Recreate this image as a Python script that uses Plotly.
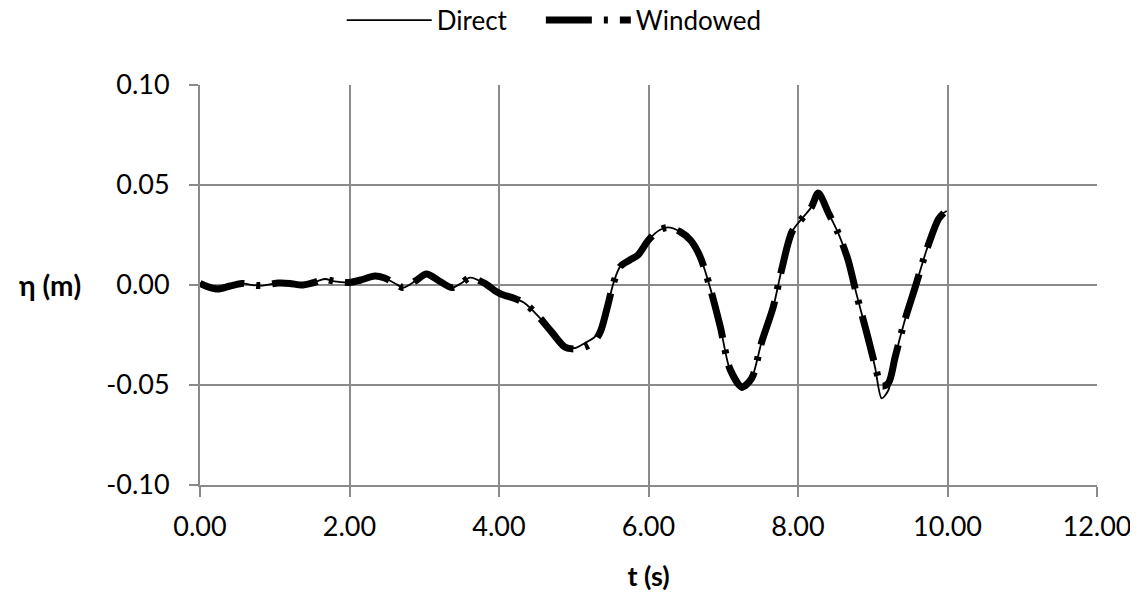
import plotly.graph_objects as go

# ---- data ----
t_direct = [0.00, 0.10, 0.24, 0.40, 0.56, 0.70, 0.82, 1.05, 1.20, 1.36, 1.50, 1.67, 1.80,
            2.00, 2.15, 2.34, 2.47, 2.60, 2.72, 2.88, 3.03, 3.20, 3.37, 3.50, 3.61, 3.81,
            3.95, 4.04, 4.21, 4.35, 4.53, 4.70, 4.88, 5.02, 5.15, 5.28, 5.36, 5.45, 5.53,
            5.62, 5.75, 5.86, 6.00, 6.15, 6.26, 6.42, 6.56, 6.69, 6.82, 6.96, 7.09, 7.25,
            7.38, 7.51, 7.67, 7.78, 7.92, 8.07, 8.18, 8.27, 8.41, 8.54, 8.67, 8.78, 8.92,
            9.03, 9.12, 9.21, 9.30, 9.43, 9.57, 9.72, 9.88, 9.99]
eta_direct = [0.0010, -0.0005, -0.0020, -0.0005, 0.0008, 0.0000, -0.0003, 0.0010, 0.0008,
              0.0000, 0.0010, 0.0030, 0.0018, 0.0013, 0.0025, 0.0045, 0.0035, 0.0010,
              -0.0013, 0.0020, 0.0055, 0.0020, -0.0013, 0.0010, 0.0037, 0.0008, -0.0030,
              -0.0047, -0.0067, -0.0092, -0.0158, -0.0233, -0.0305, -0.0315, -0.0290,
              -0.0260, -0.0220, -0.0110, 0.0008, 0.0092, 0.0125, 0.0150, 0.0225, 0.0275,
              0.0288, 0.0267, 0.0225, 0.0142, -0.0008, -0.0208, -0.0425, -0.0525, -0.0467,
              -0.0290, -0.0108, 0.0075, 0.0267, 0.0340, 0.0390, 0.0467, 0.0358, 0.0258,
              0.0125, -0.0042, -0.0240, -0.0410, -0.0567, -0.0525, -0.0360, -0.0175,
              -0.0008, 0.0175, 0.0340, 0.0370]

t_windowed = [0.00, 0.10, 0.24, 0.40, 0.56, 0.70, 0.82, 1.05, 1.20, 1.36, 1.50, 1.67, 1.80,
              2.00, 2.15, 2.34, 2.47, 2.60, 2.72, 2.88, 3.03, 3.20, 3.37, 3.50, 3.61, 3.81,
              3.95, 4.04, 4.21, 4.35, 4.53, 4.70, 4.88, 5.02, 5.15, 5.28, 5.36, 5.45, 5.53,
              5.62, 5.75, 5.86, 6.00, 6.15, 6.26, 6.42, 6.56, 6.69, 6.82, 6.96, 7.09, 7.25,
              7.38, 7.51, 7.67, 7.78, 7.92, 8.07, 8.18, 8.27, 8.41, 8.54, 8.67, 8.78, 8.92,
              9.03, 9.12, 9.21, 9.30, 9.43, 9.57, 9.72, 9.88, 9.95]
eta_windowed = [0.0008, -0.0008, -0.0020, -0.0005, 0.0008, 0.0000, -0.0003, 0.0010, 0.0008,
                0.0000, 0.0010, 0.0028, 0.0018, 0.0013, 0.0025, 0.0045, 0.0035, 0.0010,
                -0.0013, 0.0020, 0.0055, 0.0020, -0.0013, 0.0010, 0.0037, 0.0008, -0.0030,
                -0.0047, -0.0067, -0.0092, -0.0158, -0.0233, -0.0310, -0.0320, -0.0310,
                -0.0280, -0.0230, -0.0110, 0.0008, 0.0092, 0.0125, 0.0150, 0.0225, 0.0275,
                0.0288, 0.0267, 0.0225, 0.0142, -0.0008, -0.0208, -0.0420, -0.0510, -0.0467,
                -0.0290, -0.0108, 0.0075, 0.0267, 0.0340, 0.0390, 0.0460, 0.0358, 0.0258,
                0.0125, -0.0042, -0.0240, -0.0400, -0.0505, -0.0490, -0.0360, -0.0175,
                -0.0008, 0.0175, 0.0330, 0.0360]

x_ticks = [0, 2, 4, 6, 8, 10, 12]
x_ticktext = ["0.00", "2.00", "4.00", "6.00", "8.00", "10.00", "12.00"]
y_ticks = [-0.10, -0.05, 0.00, 0.05, 0.10]
y_ticktext = ["-0.10", "-0.05", "0.00", "0.05", "0.10"]

FONT = "Lato, 'Open Sans', sans-serif"
GRID = "#8a8a8a"
FS = 27

fig = go.Figure()
fig.add_trace(go.Scatter(
    x=t_windowed, y=eta_windowed, name="Windowed", mode="lines", legend="legend2",
    showlegend=True,
    line=dict(color="black", width=7, dash="46px,12px,4px,12px", shape="spline", smoothing=0.8),
))
fig.add_trace(go.Scatter(
    x=t_direct, y=eta_direct, name="Direct", mode="lines", legend="legend",
    showlegend=True,
    line=dict(color="black", width=1.8, shape="spline", smoothing=0.8),
))

leg_common = dict(orientation="h", xanchor="left", y=1.162, yanchor="middle",
                  font=dict(size=26), itemwidth=85, bgcolor="rgba(0,0,0,0)", visible=True)

# page body adds an 8px margin, so the figure is 8px smaller and shifted
fig.update_layout(
    width=1130, height=587,
    showlegend=True,
    margin=dict(l=192, r=41, t=77, b=110, autoexpand=False),
    paper_bgcolor="white", plot_bgcolor="white",
    font=dict(family=FONT, size=FS, color="black"),
    legend=dict(x=0.158, **leg_common),
    legend2=dict(x=0.38, **leg_common),
    xaxis=dict(range=[0, 12], tickvals=x_ticks, ticktext=x_ticktext,
               showgrid=True, gridcolor=GRID, gridwidth=2,
               showline=True, linecolor=GRID, linewidth=2,
               ticks="outside", ticklen=10, tickwidth=2, tickcolor=GRID,
               ticklabelstandoff=7, ticklabeloverflow="allow", zeroline=False,
               title=dict(text="<b>t (s)</b>", font=dict(size=FS), standoff=26)),
    yaxis=dict(range=[-0.10, 0.10], tickvals=y_ticks, ticktext=y_ticktext,
               showgrid=True, gridcolor=GRID, gridwidth=2,
               showline=True, linecolor=GRID, linewidth=2,
               ticks="outside", ticklen=9, tickwidth=2, tickcolor=GRID,
               ticklabelstandoff=14, zeroline=True, zerolinecolor=GRID, zerolinewidth=2),
    annotations=[dict(text="<b>η (m)</b>", xref="paper", yref="y", x=-0.167, y=0,
                      xanchor="center", yanchor="middle", showarrow=False,
                      font=dict(size=28, family=FONT))],
)

fig.write_html("out.html")
